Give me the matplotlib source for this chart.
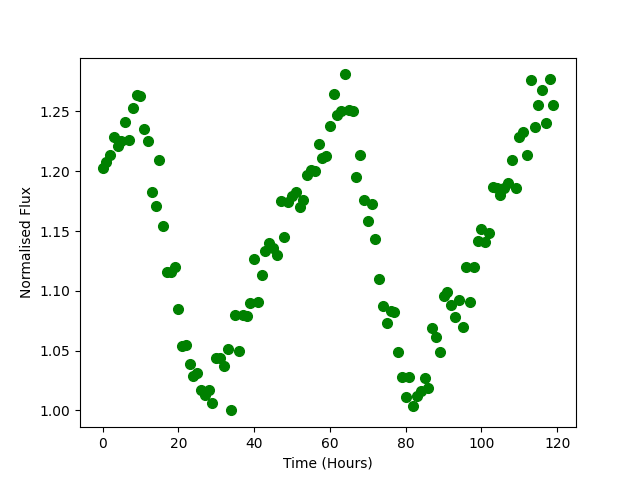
import matplotlib
matplotlib.use("Agg")
import matplotlib.pyplot as plt
import numpy as np

time_hours = np.arange(120)
flux = [
    1.203, 1.208, 1.214, 1.229, 1.221, 1.225, 1.241, 1.226, 1.253, 1.264,
    1.263, 1.235, 1.225, 1.183, 1.171, 1.209, 1.154, 1.116, 1.116, 1.120,
    1.085, 1.054, 1.055, 1.039, 1.029, 1.031, 1.017, 1.013, 1.017, 1.006,
    1.044, 1.044, 1.037, 1.051, 1.000, 1.080, 1.050, 1.080, 1.079, 1.090,
    1.127, 1.091, 1.113, 1.133, 1.140, 1.136, 1.130, 1.175, 1.145, 1.174,
    1.179, 1.183, 1.170, 1.176, 1.197, 1.201, 1.200, 1.223, 1.211, 1.213,
    1.238, 1.265, 1.247, 1.250, 1.281, 1.251, 1.250, 1.195, 1.214, 1.176,
    1.158, 1.173, 1.143, 1.110, 1.087, 1.073, 1.083, 1.082, 1.049, 1.028,
    1.011, 1.028, 1.004, 1.012, 1.016, 1.027, 1.019, 1.069, 1.061, 1.049,
    1.096, 1.099, 1.088, 1.078, 1.092, 1.070, 1.120, 1.091, 1.120, 1.142,
    1.152, 1.141, 1.148, 1.187, 1.186, 1.180, 1.186, 1.190, 1.209, 1.186,
    1.229, 1.233, 1.214, 1.276, 1.237, 1.255, 1.268, 1.240, 1.277, 1.255,
]

fig, ax = plt.subplots(figsize=(6.4, 4.8), dpi=100)
ax.plot(time_hours, flux, 'o', color='green', markersize=7)
ax.set_xlabel('Time (Hours)')
ax.set_ylabel('Normalised Flux')
fig.savefig('out.png', dpi=100)
